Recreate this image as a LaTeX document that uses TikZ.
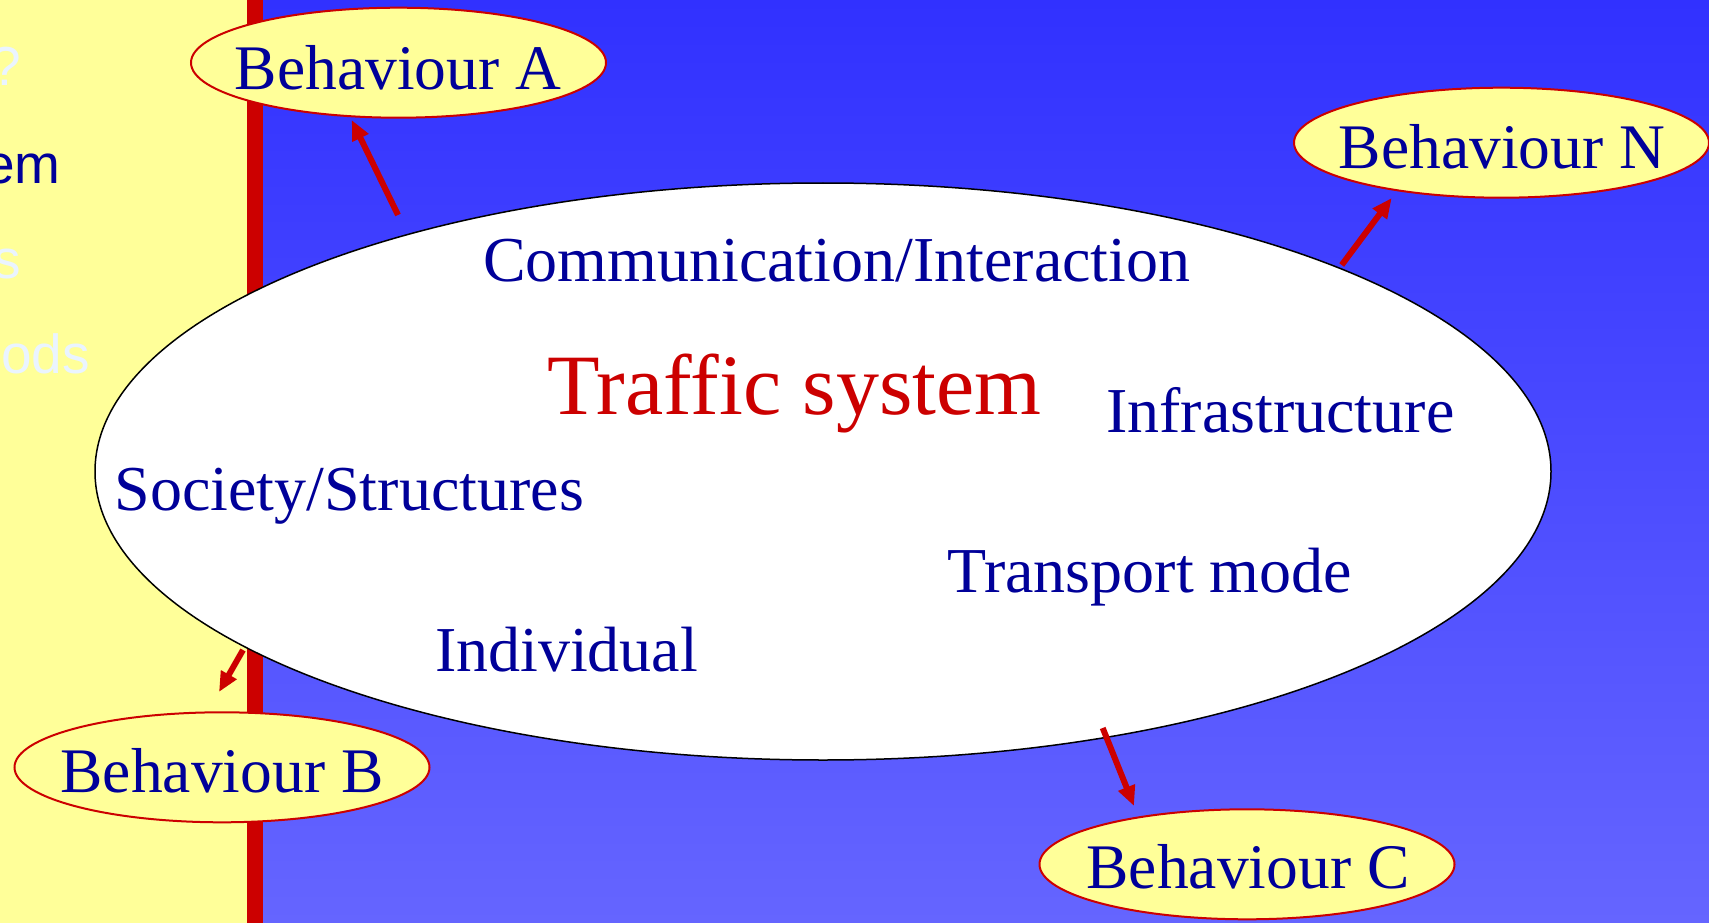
\documentclass[tikz,border=0pt]{standalone}
\usepackage{fontspec}
\setmainfont{Liberation Serif}
\newfontfamily\leftfont{Liberation Sans}
\usetikzlibrary{shapes.geometric,arrows.meta}
\definecolor{slideyellow}{HTML}{FFFF99}
\definecolor{slidered}{HTML}{CC0000}
\definecolor{bluetop}{HTML}{3131FF}
\definecolor{bluebot}{HTML}{6565FF}
\definecolor{navy}{HTML}{000099}
\definecolor{paletext}{HTML}{EAF4FF}
\tikzset{
  behbox/.style={ellipse, draw=slidered, line width=2pt, fill=slideyellow, minimum width=415pt, minimum height=110pt, inner sep=0pt},
  behtext/.style={anchor=base, inner sep=0pt, text=navy, font=\fontsize{63.5}{70}\selectfont},
  item/.style={anchor=base west, inner sep=0pt, text=navy, font=\fontsize{64}{70}\selectfont},
  lefttext/.style={anchor=base east, inner sep=0pt, font=\leftfont\fontsize{55}{62}\selectfont},
  behavrow/.style={-{Triangle[length=20pt,width=17pt]}, draw=slidered, line width=6pt}
}
\begin{document}
\begin{tikzpicture}[x=1pt,y=-1pt]
\useasboundingbox (0,0) rectangle (1709,923);
\clip (0,0) rectangle (1709,923);
% background
\fill[slideyellow] (0,0) rectangle (247,923);
\fill[slidered] (247,0) rectangle (263,923);
\shade[top color=bluetop, bottom color=bluebot] (263,0) rectangle (1709,923);
% left partial texts
\node[lefttext, text=paletext] (q1) at (21,85.5) {?};
\node[lefttext, text=navy] (q2) at (61,183) {em};
\node[lefttext, text=paletext] (q3) at (21.5,278) {s};
\node[lefttext, text=paletext] (q4) at (90,373) {hods};
% main ellipse
\node[ellipse, draw=black, line width=1.5pt, fill=white, minimum width=1456pt, minimum height=577pt, inner sep=0pt] (sys) at (823,471.5) {};
% behaviour ellipses
\node[behbox] (behA) at (398.5,62.7) {};
\node[behbox] (behN) at (1501.5,142.7) {};
\node[behbox] (behB) at (222,767.3) {};
\node[behbox] (behC) at (1247,864.3) {};
\node[behtext] (tA) at (398,89.4) {Behaviour A};
\node[behtext] (tN) at (1502,169) {Behaviour N};
\node[behtext] (tB) at (222,792) {Behaviour B};
\node[behtext] (tC) at (1248,888) {Behaviour C};
% inner texts
\node[anchor=base west, inner sep=0pt, text=slidered, font=\fontsize{86}{95}\selectfont] (title) at (547,414) {Traffic system};
\node[item] (comm) at (482.8,281) {Communication/Interaction};
\node[item] (infra) at (1106,432.7) {Infrastructure};
\node[item] (soc) at (114.4,510) {Society/Structures};
\node[item] (trans) at (947,592) {Transport mode};
\node[item] (indiv) at (434.9,671) {Individual};
% arrows
\coordinate (aT) at (398,215);   \coordinate (aH) at (351.7,120);
\coordinate (nT) at (1341.7,265); \coordinate (nH) at (1391.7,198);
\coordinate (bT) at (243,650);   \coordinate (bH) at (219,692);
\coordinate (cT) at (1102.7,728); \coordinate (cH) at (1134,806);
\draw[behavrow] (aT) -- (aH);
\draw[behavrow] (nT) -- (nH);
\draw[behavrow] (bT) -- (bH);
\draw[behavrow] (cT) -- (cH);
\end{tikzpicture}
\end{document}
